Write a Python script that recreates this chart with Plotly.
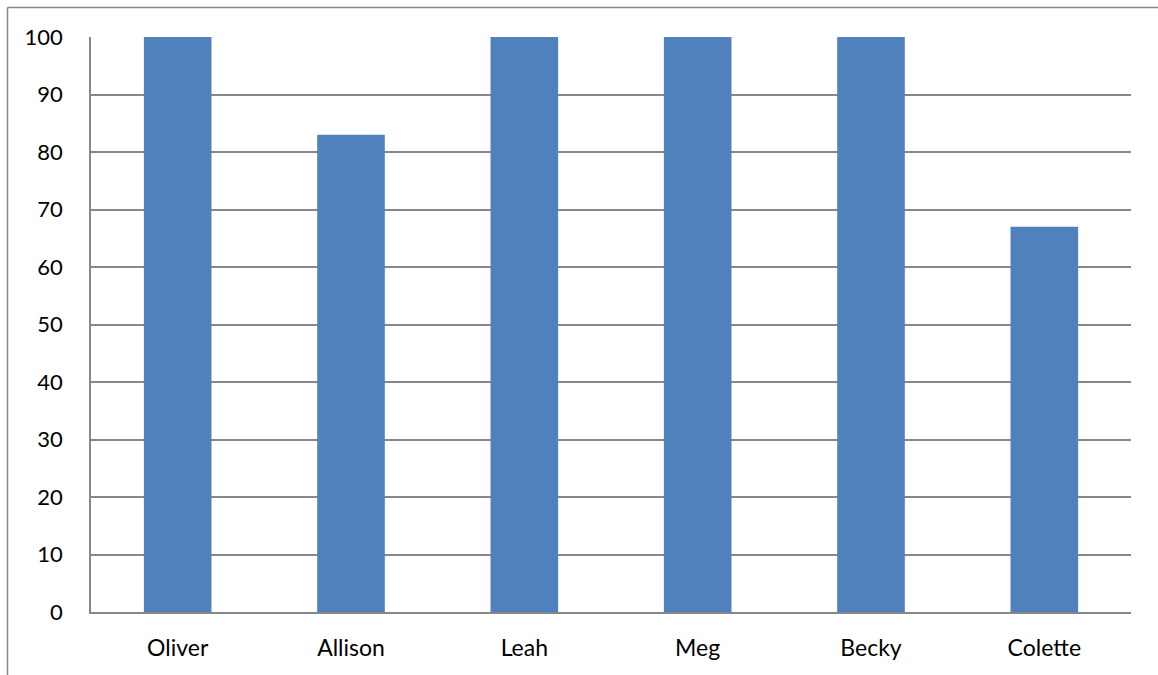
import plotly.graph_objects as go

names = ["Oliver", "Allison", "Leah", "Meg", "Becky", "Colette"]
scores = [100, 83, 100, 100, 100, 67]
y_ticks = [0, 10, 20, 30, 40, 50, 60, 70, 80, 90, 100]

W, H = 1158, 675
L, R, T, B = 91, 27, 37, 63
pw, ph = W - L - R, H - T - B

fig = go.Figure(go.Bar(x=names, y=scores, marker=dict(color="#4F81BD", line=dict(width=0)), width=0.39))

grid = "#878787"
fig.update_layout(
    width=W, height=H,
    margin=dict(l=L, r=R, t=T, b=B, autoexpand=False),
    paper_bgcolor="white", plot_bgcolor="white",
    font=dict(family="Lato, Liberation Sans, sans-serif", size=22, color="black"),
    showlegend=False,
    xaxis=dict(showgrid=False, showline=True, linecolor=grid, linewidth=1.5,
               ticks="outside", ticklen=15, tickcolor="rgba(0,0,0,0)", tickfont=dict(size=23)),
    yaxis=dict(range=[0, 100], tickvals=y_ticks, showgrid=True, gridcolor=grid, gridwidth=1.5,
               showline=True, linecolor=grid, linewidth=1.5, zeroline=False,
               ticks="outside", ticklen=22, tickcolor="rgba(0,0,0,0)", tickfont=dict(size=22)),
)

# outer chart frame (top and left edges)
x0 = (7.5 - L) / pw
y_top = (H - B - 7.5) / ph
y_bot = (H - B - H) / ph
x_right = (W - L) / pw
fig.add_shape(type="line", xref="paper", yref="paper", x0=x0, x1=x_right, y0=y_top, y1=y_top,
              line=dict(color="#888888", width=1.5))
fig.add_shape(type="line", xref="paper", yref="paper", x0=x0, x1=x0, y0=y_top, y1=y_bot,
              line=dict(color="#888888", width=1.5))

fig.write_html("out.html")
